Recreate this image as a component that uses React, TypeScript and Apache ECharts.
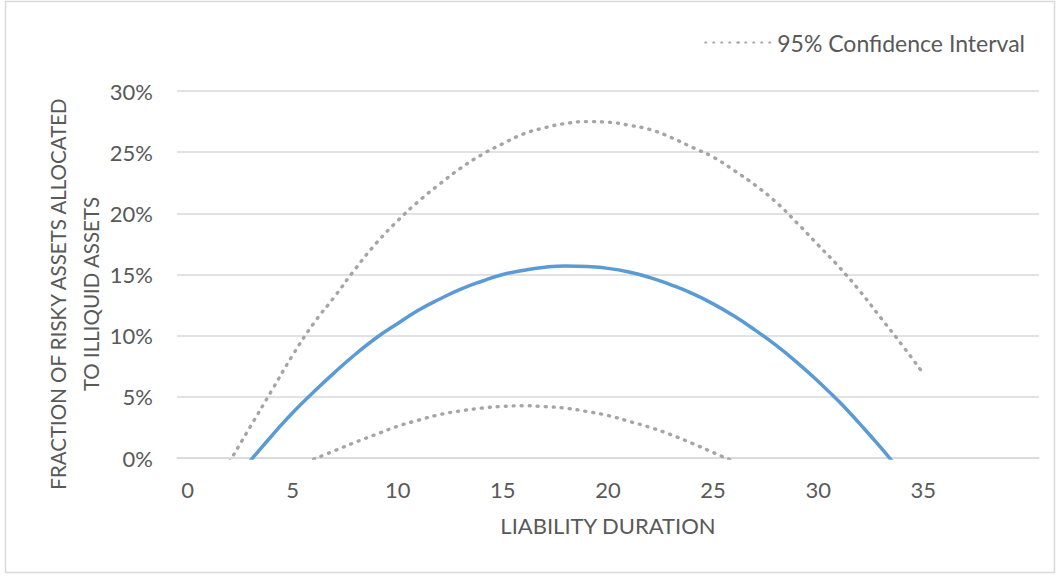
import React, { useEffect, useRef } from "react";
import * as echarts from "echarts";

// Liability duration (years) and fraction of risky assets allocated to illiquid assets (%)
const upperX = [2, 3, 4, 5, 6, 7, 8, 9, 10, 11, 12, 13, 14, 15, 16, 17, 18, 19, 20, 21, 22, 23, 24, 25, 26, 27, 28, 29, 30, 31, 32, 33, 34, 35];
const upperY = [-0.3, 2.6, 5.5, 8.4, 11.0, 13.2, 15.5, 17.6, 19.4, 21.0, 22.4, 23.7, 24.8, 25.7, 26.5, 27.0, 27.35, 27.5, 27.45, 27.2, 26.85, 26.2, 25.4, 24.6, 23.5, 22.3, 20.9, 19.2, 17.4, 15.6, 13.6, 11.4, 9.2, 6.9];

const midX = [3, 4, 5, 6, 7, 8, 9, 10, 11, 12, 13, 14, 15, 16, 17, 18, 19, 20, 21, 22, 23, 24, 25, 26, 27, 28, 29, 30, 31, 32, 33, 34];
const midY = [-0.2, 1.8, 3.7, 5.4, 7.0, 8.5, 9.85, 11.0, 12.1, 13.0, 13.8, 14.45, 15.0, 15.35, 15.6, 15.7, 15.65, 15.5, 15.2, 14.75, 14.15, 13.45, 12.6, 11.6, 10.45, 9.2, 7.8, 6.25, 4.6, 2.75, 0.8, -1.3];

const lowerX = [6, 7, 8, 9, 10, 11, 12, 13, 14, 15, 16, 17, 18, 19, 20, 21, 22, 23, 24, 25, 26];
const lowerY = [-0.1, 0.6, 1.3, 1.95, 2.6, 3.1, 3.55, 3.85, 4.08, 4.22, 4.27, 4.2, 4.07, 3.8, 3.47, 3.0, 2.5, 1.9, 1.2, 0.45, -0.3];

const xTickValues = [0, 5, 10, 15, 20, 25, 30, 35];

const ciName = "95% Confidence Interval";
const xTitle = "LIABILITY DURATION";
const yTitle = "FRACTION OF RISKY ASSETS ALLOCATED\nTO ILLIQUID ASSETS";

const pair = (xs: number[], ys: number[]) => xs.map((x, i) => [x, ys[i]]);

const FONT = "Lato";
const TEXT = "#595959";
const GRID = "#d9d9d9";

export default function App() {
  const ref = useRef<HTMLDivElement>(null);
  useEffect(() => {
    if (!ref.current) return;
    const chart = echarts.init(ref.current, undefined, { renderer: "svg" });
    const dotted = {
      color: "#a5a5a5",
      width: 3.4,
      type: [1, 7] as any,
      cap: "round" as const,
    };
    chart.setOption({
      animation: false,
      backgroundColor: "#ffffff",
      textStyle: { fontFamily: FONT, color: TEXT },
      grid: { left: 177, right: 20, top: 91, bottom: 118, containLabel: false },
      legend: {
        data: [ciName],
        right: 29,
        top: 26,
        itemWidth: 67,
        itemHeight: 3,
        itemGap: 8,
        textStyle: { fontFamily: FONT, fontSize: 23, color: TEXT },
      },
      xAxis: {
        type: "value",
        min: -0.5,
        max: 40.5,
        name: xTitle,
        nameLocation: "middle",
        nameGap: 56,
        nameTextStyle: { fontFamily: FONT, fontSize: 22, color: TEXT },
        axisLine: { show: true, lineStyle: { color: GRID, width: 1.5 } },
        axisTick: { show: false },
        splitLine: { show: false },
        axisLabel: {
          customValues: xTickValues,
          margin: 20,
          fontFamily: FONT,
          fontSize: 22,
          color: TEXT,
        },
      },
      yAxis: {
        type: "value",
        min: 0,
        max: 30,
        interval: 5,
        axisLine: { show: false },
        axisTick: { show: false },
        splitLine: { lineStyle: { color: GRID, width: 1.5 } },
        axisLabel: {
          formatter: "{value}%",
          margin: 24,
          fontFamily: FONT,
          fontSize: 22,
          color: TEXT,
        },
      },
      graphic: [
        {
          type: "rect",
          silent: true,
          shape: { x: 5.5, y: 1.5, width: 1049, height: 571 },
          style: { fill: "none", stroke: GRID, lineWidth: 1.5 },
        },
        {
          type: "text",
          x: 74,
          y: 294,
          rotation: Math.PI / 2,
          style: {
            text: yTitle,
            fontFamily: FONT,
            fontSize: 20.5,
            lineHeight: 33,
            fill: TEXT,
            align: "center",
            verticalAlign: "middle",
          },
        },
      ],
      series: [
        {
          name: ciName,
          type: "line",
          data: pair(upperX, upperY),
          smooth: true,
          symbol: "none",
          clip: true,
          lineStyle: dotted,
          itemStyle: { color: "#a5a5a5" },
          z: 2,
        },
        {
          name: "Estimate",
          type: "line",
          data: pair(midX, midY),
          smooth: true,
          symbol: "none",
          clip: true,
          lineStyle: { color: "#5b9bd5", width: 3.5, cap: "round" },
          itemStyle: { color: "#5b9bd5" },
          z: 3,
        },
        {
          name: ciName,
          type: "line",
          data: pair(lowerX, lowerY),
          smooth: true,
          symbol: "none",
          clip: true,
          lineStyle: dotted,
          itemStyle: { color: "#a5a5a5" },
          z: 2,
        },
      ],
    });
    return () => chart.dispose();
  }, []);
  return (
    <div
      ref={ref}
      style={{ position: "fixed", left: 0, top: 0, width: 1059, height: 576 }}
    />
  );
}
